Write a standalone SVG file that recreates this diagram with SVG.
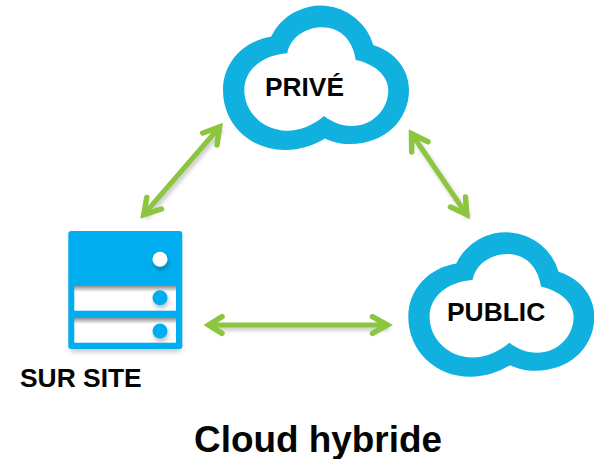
<svg xmlns="http://www.w3.org/2000/svg" width="594" height="459" viewBox="0 0 594 459">
<style>
.cloud{fill:#10b0df;fill-rule:evenodd}
.lbl{font-family:"Liberation Sans",Arial,sans-serif;font-weight:700;fill:#050505}
.arr{fill:none;stroke:#8cc63f;stroke-width:5;stroke-linecap:round}
.head{fill:none;stroke:#8cc63f;stroke-width:5.5;stroke-linecap:round;stroke-linejoin:miter;stroke-miterlimit:6}
.dot{fill:#00aeef}
</style>
<defs>
<filter id="sh" x="-20%" y="-20%" width="140%" height="140%"><feGaussianBlur stdDeviation="2.5"/></filter>
<filter id="sh2" x="-60%" y="-60%" width="220%" height="220%"><feGaussianBlur stdDeviation="2"/></filter>
<path id="cl" d="M271 36.7A55 55 0 0 1 373.3 45C395 52 409 69 409 90C409 120 385 144 350 144C340 144 332 142 325 138.5C312 146 300 150 285 150C250 150 223 124 223 90C223 62 244 41 271 36.7ZM287.3 53.3C290 38 305 27.3 322 27.3C340 27.3 353 40 355.7 60C375 64 388.3 76 388.3 90C388.3 110 372 126 351.7 126C341 126 332 122 324 116C314 125 300 130.7 287 130.7C263 130.7 244.3 112 244.3 90C244.3 70 262 55 287.3 53.3Z"/>
<linearGradient id="rowsh" x1="0" y1="0" x2="0" y2="1"><stop offset="0" stop-color="#8a8a8a"/><stop offset=".25" stop-color="#fff"/></linearGradient>
</defs>
<g id="connectors">
<g opacity=".4" filter="url(#sh2)" transform="translate(2 3)" stroke="#666" fill="none" stroke-width="4.5">
<path d="M219.6 127L143.7 214.7M411.5 133.7L466.8 214.6M209 325H387"/>
</g>
<path class="arr" d="M219.6 127L143.7 214.7"/>
<path class="head" d="M202.8 133L219.6 127L217 145M146.8 197.5L143.7 214.7L161.5 209"/>
<path class="arr" d="M411.5 133.7L466.8 214.6"/>
<path class="head" d="M411.7 152L411.5 133.7L428 141.7M465.5 197L466.8 214.6L450.5 207"/>
<path class="arr" d="M209 325H387"/>
<path class="head" d="M222 316.7L208.7 325L222 333.3M372.5 316.7L387.3 325L372.5 333.3"/>
</g>
<g id="prive">
<use href="#cl" class="cloud"/>
<text class="lbl" x="265" y="96" font-size="26.3">PRIVÉ</text>
</g>
<g id="public">
<use href="#cl" class="cloud" transform="translate(185.3 226.7)"/>
<text class="lbl" x="447" y="321" font-size="26.4">PUBLIC</text>
</g>
<g id="sur-site">
<rect x="70" y="235" width="111" height="117" rx="3" fill="#777" opacity=".4" filter="url(#sh)"/>
<rect x="68.3" y="231" width="114" height="118" rx="3" fill="#00aeef"/>
<rect x="74.3" y="285.7" width="101.7" height="25" fill="url(#rowsh)"/>
<rect x="74.3" y="317.7" width="101.7" height="25" fill="url(#rowsh)"/>
<circle cx="161" cy="263" r="7.5" fill="#06708f" opacity=".6" filter="url(#sh2)"/>
<circle cx="160" cy="259.3" r="7.5" fill="#fff"/>
<circle cx="161" cy="301" r="7.5" fill="#888" opacity=".5" filter="url(#sh2)"/>
<circle cx="161" cy="334.5" r="7.5" fill="#888" opacity=".5" filter="url(#sh2)"/>
<circle cx="160" cy="297.7" r="7.5" class="dot"/>
<circle cx="160" cy="331" r="7.5" class="dot"/>
<text class="lbl" x="20" y="387" font-size="26.4">SUR SITE</text>
</g>
<text id="title" class="lbl" x="194" y="452.3" font-size="36.9">Cloud hybride</text>
</svg>
